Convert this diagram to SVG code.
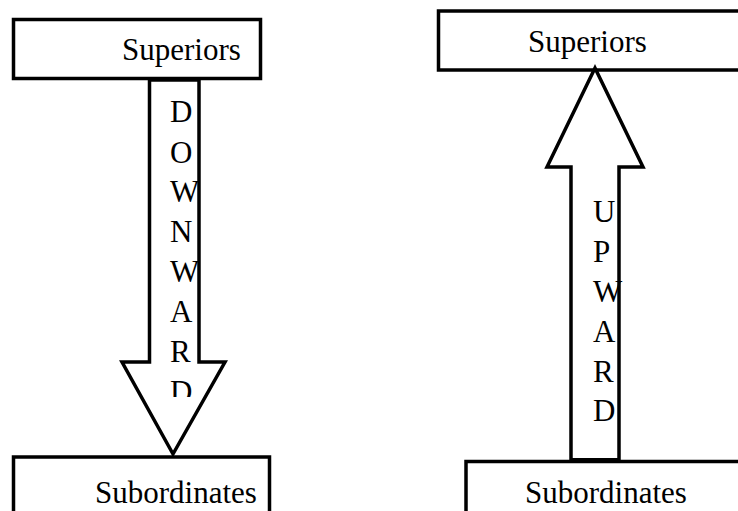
<svg xmlns="http://www.w3.org/2000/svg" width="738" height="511" viewBox="0 0 738 511">
<style>
.box{fill:#fff;stroke:#000;stroke-width:3.5}
.arrow{fill:#fff;stroke:#000;stroke-width:3.5;stroke-linejoin:miter}
</style>
<defs>
<clipPath id="clipDown"><rect x="150" y="82" width="60" height="315"/></clipPath>
</defs>
<g font-family="'Liberation Serif', 'Times New Roman', Times, serif" font-size="31" fill="#000">
<g id="superiors-left">
<rect class="box" x="13.5" y="19.5" width="247" height="59"/>
<text x="122" y="60">Superiors</text>
</g>
<g id="subordinates-left">
<rect class="box" x="13.5" y="457" width="256" height="80"/>
<text x="95" y="503">Subordinates</text>
</g>
<g id="superiors-right">
<rect class="box" x="438.5" y="11" width="310" height="59"/>
<text x="528" y="52">Superiors</text>
</g>
<g id="subordinates-right">
<rect class="box" x="466" y="461.5" width="300" height="80"/>
<text x="525" y="503">Subordinates</text>
</g>
<g id="connectors">
<g id="downward">
<polygon class="arrow" points="149.5,80 199,80 199,362 225,362 173,454 122,362 149.5,362"/>
<g clip-path="url(#clipDown)">
<text x="170" y="122">D</text>
<text x="170" y="163">O</text>
<text x="170" y="202">W</text>
<text x="170" y="242">N</text>
<text x="170" y="282">W</text>
<text x="170" y="322">A</text>
<text x="170" y="362">R</text>
<text x="170" y="402">D</text>
</g>
</g>
<g id="upward">
<polygon class="arrow" points="595,68 643,167 619,167 619,460 571,460 571,167 547,167"/>
<line x1="571" y1="460" x2="619" y2="460" stroke="#000" stroke-width="4"/>
<text x="593" y="222">U</text>
<text x="593" y="262">P</text>
<text x="593" y="302">W</text>
<text x="593" y="342">A</text>
<text x="593" y="382">R</text>
<text x="593" y="421">D</text>
</g>
</g>
</g>
</svg>
